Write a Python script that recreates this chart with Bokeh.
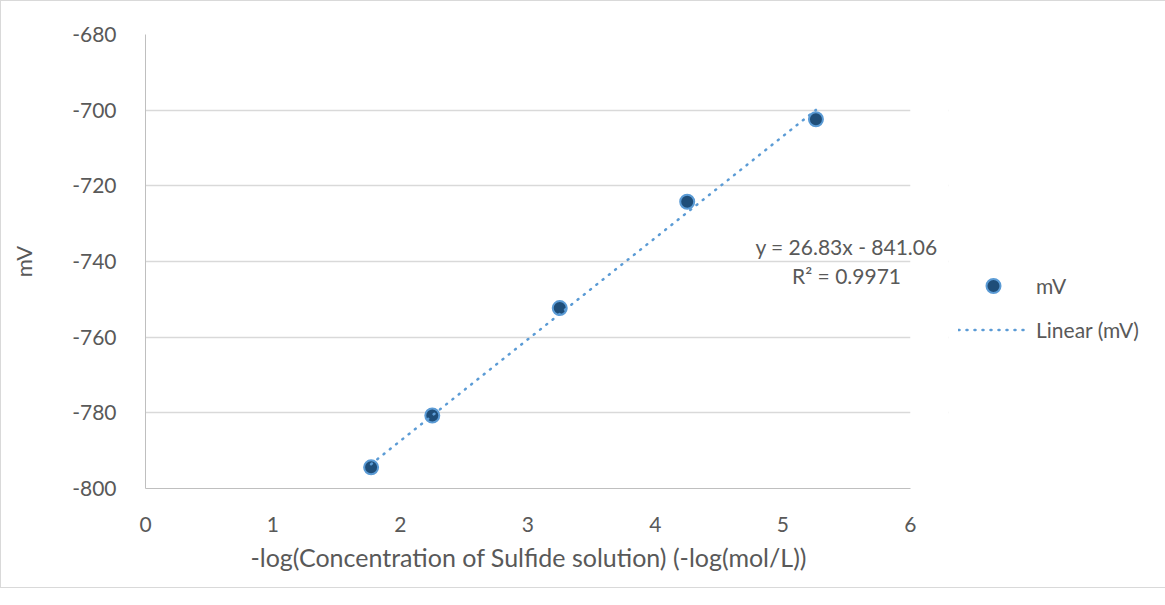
from bokeh.plotting import figure
from bokeh.models import (Range1d, Label, Legend, LegendItem, SingleIntervalTicker, Title,
                          ColumnDataSource, CustomJSTickFormatter, BoxAnnotation)
from bokeh.embed import file_html
from bokeh.resources import INLINE

# Data
x_vals = [1.77, 2.25, 3.25, 4.25, 5.26]
mv_vals = [-794.4, -780.7, -752.3, -724.2, -702.4]
slope = 26.83
intercept = -841.06
eq_text = "y = 26.83x - 841.06"
r2_text = "R² = 0.9971"
x_title = "-log(Concentration of Sulfide solution) (-log(mol/L))"
y_title = "mV"
series_label = "mV"
trend_label = "Linear (mV)"

FONT = "Lato"
TXT = "#595959"
X_MAX = 6

p = figure(frame_width=803, frame_height=454, output_backend="svg", toolbar_location=None,
           x_range=Range1d(0, 6.3), y_range=Range1d(-800, -680),
           min_border_left=144, min_border_right=200, min_border_top=33, min_border_bottom=99)
p.outline_line_color = None
p.styles = {"border": "1px solid #d9d9d9"}

src = ColumnDataSource(dict(x=x_vals, y=mv_vals))
sc = p.scatter("x", "y", source=src, size=14, fill_color="#1f4e79", line_color="#5b9bd5", line_width=2)

xt = [min(x_vals), max(x_vals)]
yt = [slope * v + intercept for v in xt]
tl = p.line(xt, yt, line_color="#5b9bd5", line_width=2.5, line_dash="1 7", line_cap="round")

fmt = CustomJSTickFormatter(code="return tick.toString();")
for ax in (p.xaxis[0], p.yaxis[0]):
    ax.major_tick_line_color = None
    ax.minor_tick_line_color = None
    ax.axis_line_color = "#bfbfbf"
    ax.axis_line_width = 1
    ax.major_label_text_font = FONT
    ax.major_label_text_font_size = "21px"
    ax.major_label_text_color = TXT
    ax.axis_label_text_font = FONT
    ax.axis_label_text_color = TXT
    ax.axis_label_text_font_style = "normal"
    ax.formatter = fmt

p.xaxis.ticker = SingleIntervalTicker(interval=1)
p.xaxis.bounds = (0, X_MAX)
p.yaxis.ticker = SingleIntervalTicker(interval=20)
p.yaxis.axis_label = y_title
p.yaxis.axis_label_text_font_size = "22px"
p.xaxis.major_label_standoff = 22
p.yaxis.major_label_standoff = 23
p.yaxis.axis_label_standoff = 32

# x-axis title: centred under the 0..6 plot area (not the extended frame)
p.add_layout(Title(text=x_title, align="left", offset=105, standoff=11, text_font=FONT,
                   text_font_size="25px", text_font_style="normal", text_color=TXT), "below")

p.xgrid.grid_line_color = None
p.ygrid.grid_line_color = "#d9d9d9"
p.ygrid.grid_line_width = 1.3

# hide the gridlines beyond the plot area's right edge (x = 6) so the equation can overhang
p.add_layout(BoxAnnotation(left=X_MAX, fill_color="white", fill_alpha=1, line_color=None,
                           level="underlay"))

p.add_layout(Label(x=5.5, y=-736.0, text=eq_text, text_align="center", text_baseline="middle",
                   text_font=FONT, text_font_size="21px", text_color=TXT))
p.add_layout(Label(x=5.5, y=-743.6, text=r2_text, text_align="center", text_baseline="middle",
                   text_font=FONT, text_font_size="21px", text_color=TXT))

legend = Legend(items=[LegendItem(label=series_label, renderers=[sc]),
                       LegendItem(label=trend_label, renderers=[tl])],
                location=(10, 141), glyph_width=70, glyph_height=35, spacing=9,
                label_standoff=8, label_text_font=FONT, label_text_font_size="21px",
                label_text_color=TXT, border_line_color=None, background_fill_alpha=0,
                padding=0, margin=0)
p.add_layout(legend, "right")

open("out.html", "w").write(file_html(p, INLINE))
